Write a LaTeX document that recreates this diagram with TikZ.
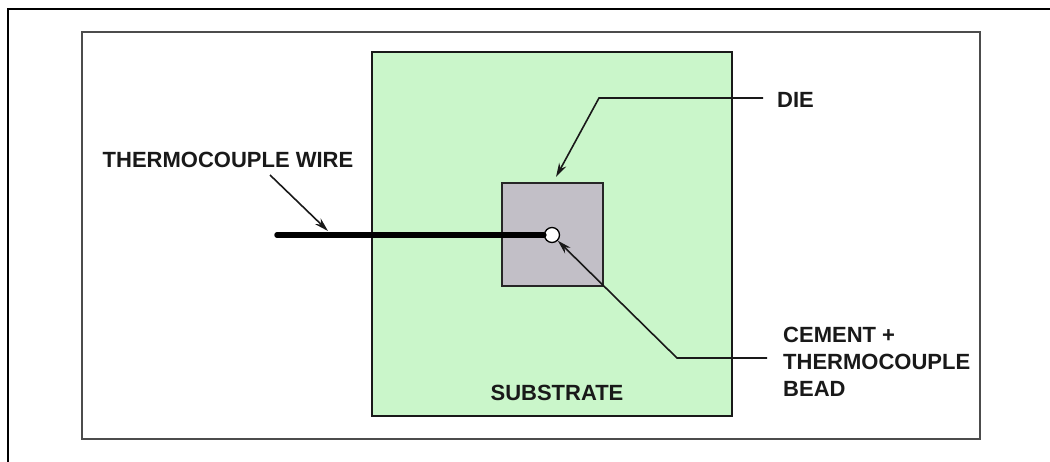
\documentclass[tikz,border=0pt]{standalone}
\usepackage{fontspec}
\setmainfont{Liberation Sans}
\usetikzlibrary{arrows.meta}
\definecolor{subgreen}{RGB}{202,246,202}
\definecolor{diegrey}{RGB}{194,191,199}
\definecolor{txt}{RGB}{25,25,25}
\begin{document}
\begin{tikzpicture}[x=1pt,y=-1pt,
  lbl/.style={font=\fontsize{22}{27}\selectfont\bfseries, inner sep=0pt, text=txt, align=left},
  lead/.style={line width=1.6pt, draw=black!90},
  arr/.style={lead, -{Stealth[length=14pt,width=8pt]}},
  box/.style={draw, inner sep=0pt, outer sep=0pt}]
\useasboundingbox (0,0) rectangle (1050,462);
\fill[white] (0,0) rectangle (1050,462);
% outer frame (top and left visible)
\draw[line width=2.5pt] (8,462) -- (8,9) -- (1050,9);
% inner frame
\node[box, draw=black!70, line width=1.5pt, minimum width=898pt, minimum height=407pt] (frame) at (531,235.5) {};
% substrate
\node[box, draw=black!90, fill=subgreen, line width=2pt, minimum width=360pt, minimum height=364pt] (sub) at (552,234) {};
% die
\node[box, draw=black!85, fill=diegrey, line width=1.5pt, minimum width=101pt, minimum height=103pt] (die) at (552.5,234.5) {};
% wire end and bead
\coordinate (wl) at (277,235);
\node[circle, draw=black, fill=white, line width=1.3pt, minimum size=15pt, inner sep=0pt] (bead) at (552,235) {};
\draw[line width=5.5pt, line cap=round] (wl) -- (bead.west);
% labels
\node[lbl, anchor=center] (wirelbl) at (228,160) {THERMOCOUPLE WIRE};
\node[lbl, anchor=west] (dielbl) at (777,100) {DIE};
\node[lbl, anchor=west] (cemlbl) at (783,362) {CEMENT +\\THERMOCOUPLE\\BEAD};
\node[lbl, anchor=center] (sublbl) at (557,393) {SUBSTRATE};
% leaders
\coordinate (wa) at (270,175);
\coordinate (wt) at (328,231);
\draw[arr] (wa) -- (wt);
\coordinate (da) at (763,98);
\coordinate (db) at (599,98);
\coordinate (dt) at (556,177);
\draw[arr] (da) -- (db) -- (dt);
\coordinate (ca) at (767,358);
\coordinate (cb) at (677,358);
\draw[arr] (ca) -- (cb) -- (bead);
\end{tikzpicture}
\end{document}
